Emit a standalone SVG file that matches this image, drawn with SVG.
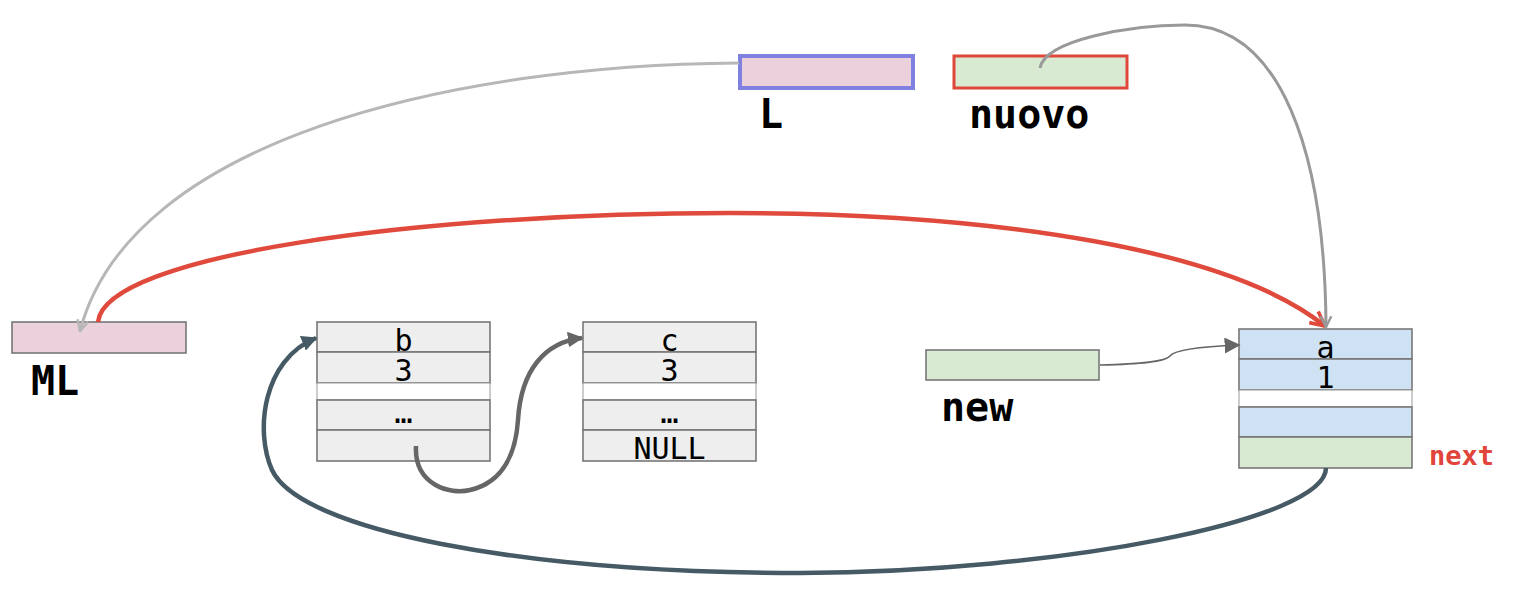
<svg xmlns="http://www.w3.org/2000/svg" width="1516" height="589" viewBox="0 0 1516 589">
<style>
.cell{stroke:#777777;stroke-width:1.6}
.g{fill:#eeeeee}
.b{fill:#cfe2f3}
.gr{fill:#d9ead3}
.pk{fill:#ead1dc}
.gap{fill:#ffffff;stroke:#9a9a9a;stroke-width:1}
.v{font-family:"DejaVu Sans Mono",monospace;font-size:30px;fill:#000;text-anchor:middle}
.lbl{font-family:"DejaVu Sans Mono",monospace;font-weight:bold;font-size:40px;fill:#000}
.next{font-family:"DejaVu Sans Mono",monospace;font-weight:bold;font-size:27px;fill:#e0443a}
.c{fill:none}
</style>
<defs>
<marker id="vLight" viewBox="0 0 10 10" refX="9" refY="5" markerWidth="4.5" markerHeight="4.5" orient="auto" markerUnits="strokeWidth">
<path d="M1,1 L9,5 L1,9" fill="none" stroke="#b7b7b7" stroke-width="1.8"/>
</marker>
<marker id="vGrey" viewBox="0 0 10 10" refX="9" refY="5" markerWidth="4.5" markerHeight="4.5" orient="auto" markerUnits="strokeWidth">
<path d="M1,1 L9,5 L1,9" fill="none" stroke="#999999" stroke-width="1.8"/>
</marker>
<marker id="vRed" viewBox="0 0 10 10" refX="9" refY="5" markerWidth="4" markerHeight="4" orient="auto" markerUnits="strokeWidth">
<path d="M1,1 L9,5 L1,9" fill="none" stroke="#e04a3c" stroke-width="2"/>
</marker>
<marker id="tGrey" viewBox="0 0 10 10" refX="9" refY="5" markerWidth="3.5" markerHeight="3.5" orient="auto" markerUnits="strokeWidth">
<path d="M0,0 L10,5 L0,10 z" fill="#666666"/>
</marker>
<marker id="tThin" viewBox="0 0 10 10" refX="9" refY="5" markerWidth="10" markerHeight="10" orient="auto" markerUnits="strokeWidth">
<path d="M0,0 L10,5 L0,10 z" fill="#666666"/>
</marker>
<marker id="tSlate" viewBox="0 0 10 10" refX="9" refY="5" markerWidth="3.5" markerHeight="3.5" orient="auto" markerUnits="strokeWidth">
<path d="M0,0 L10,5 L0,10 z" fill="#455a64"/>
</marker>
</defs>

<g id="node-ML">
<rect class="cell pk" x="12" y="322" width="174" height="31"/>
<text class="lbl" x="31" y="395">ML</text>
</g>

<g id="node-L">
<rect x="740" y="56" width="173" height="32" fill="#ead1dc" stroke="#8080e0" stroke-width="4"/>
<text class="lbl" x="759" y="128">L</text>
</g>

<g id="node-nuovo">
<rect x="954" y="56" width="173" height="32" fill="#d9ead3" stroke="#e0463a" stroke-width="3"/>
<text class="lbl" x="969" y="128">nuovo</text>
</g>

<g id="node-new">
<rect class="cell gr" x="926" y="350" width="173" height="30"/>
<text class="lbl" x="941" y="421">new</text>
</g>

<g id="node-b">
<rect class="cell g" x="317" y="322" width="173" height="30"/>
<rect class="cell g" x="317" y="352" width="173" height="31"/>
<rect class="gap" x="317" y="383" width="173" height="17"/>
<rect class="cell g" x="317" y="400" width="173" height="30"/>
<rect class="cell g" x="317" y="430" width="173" height="31"/>
<text class="v" x="403.5" y="351">b</text>
<text class="v" x="403.5" y="381">3</text>
<text class="v" x="403.5" y="423">…</text>
</g>

<g id="node-c">
<rect class="cell g" x="583" y="322" width="173" height="30"/>
<rect class="cell g" x="583" y="352" width="173" height="31"/>
<rect class="gap" x="583" y="383" width="173" height="17"/>
<rect class="cell g" x="583" y="400" width="173" height="30"/>
<rect class="cell g" x="583" y="430" width="173" height="31"/>
<text class="v" x="669.5" y="351">c</text>
<text class="v" x="669.5" y="381">3</text>
<text class="v" x="669.5" y="423">…</text>
<text class="v" x="669.5" y="459">NULL</text>
</g>

<g id="node-a">
<rect class="cell b" x="1239" y="329" width="173" height="30"/>
<rect class="cell b" x="1239" y="359" width="173" height="31"/>
<rect class="gap" x="1239" y="390" width="173" height="17"/>
<rect class="cell b" x="1239" y="407" width="173" height="30"/>
<rect class="cell gr" x="1239" y="437" width="173" height="31"/>
<text class="v" x="1325.5" y="358">a</text>
<text class="v" x="1325.5" y="388">1</text>
<text class="next" x="1429" y="465">next</text>
</g>

<g id="connectors">
<path class="c" d="M739 63 C450 65 130 140 80 331" stroke="#b7b7b7" stroke-width="3" marker-end="url(#vLight)"/>
<path class="c" d="M98 322 C105 255 420 213 730 213 C1000 213 1230 250 1325 326" stroke="#e04a3c" stroke-width="4.5" marker-end="url(#vRed)"/>
<path class="c" d="M1040 68 C1045 40 1130 25 1185 25 C1280 25 1325 150 1326 327" stroke="#999999" stroke-width="3" marker-end="url(#vGrey)"/>
<path class="c" d="M1100 365 C1140 364 1165 362 1170 356 C1175 348 1215 346 1239 345" stroke="#666666" stroke-width="1.6" marker-end="url(#tThin)"/>
<path class="c" d="M416 446 C414 485 450 495 470 490 C505 482 516 450 518 420 C521 370 545 342 582 338" stroke="#666666" stroke-width="4.5" marker-end="url(#tGrey)"/>
<path class="c" d="M1326 468 C1326 520 1060 572 800 573 C520 573 300 530 272 470 C255 432 262 360 316 338" stroke="#455a64" stroke-width="4.5" marker-end="url(#tSlate)"/>
</g>
</svg>
